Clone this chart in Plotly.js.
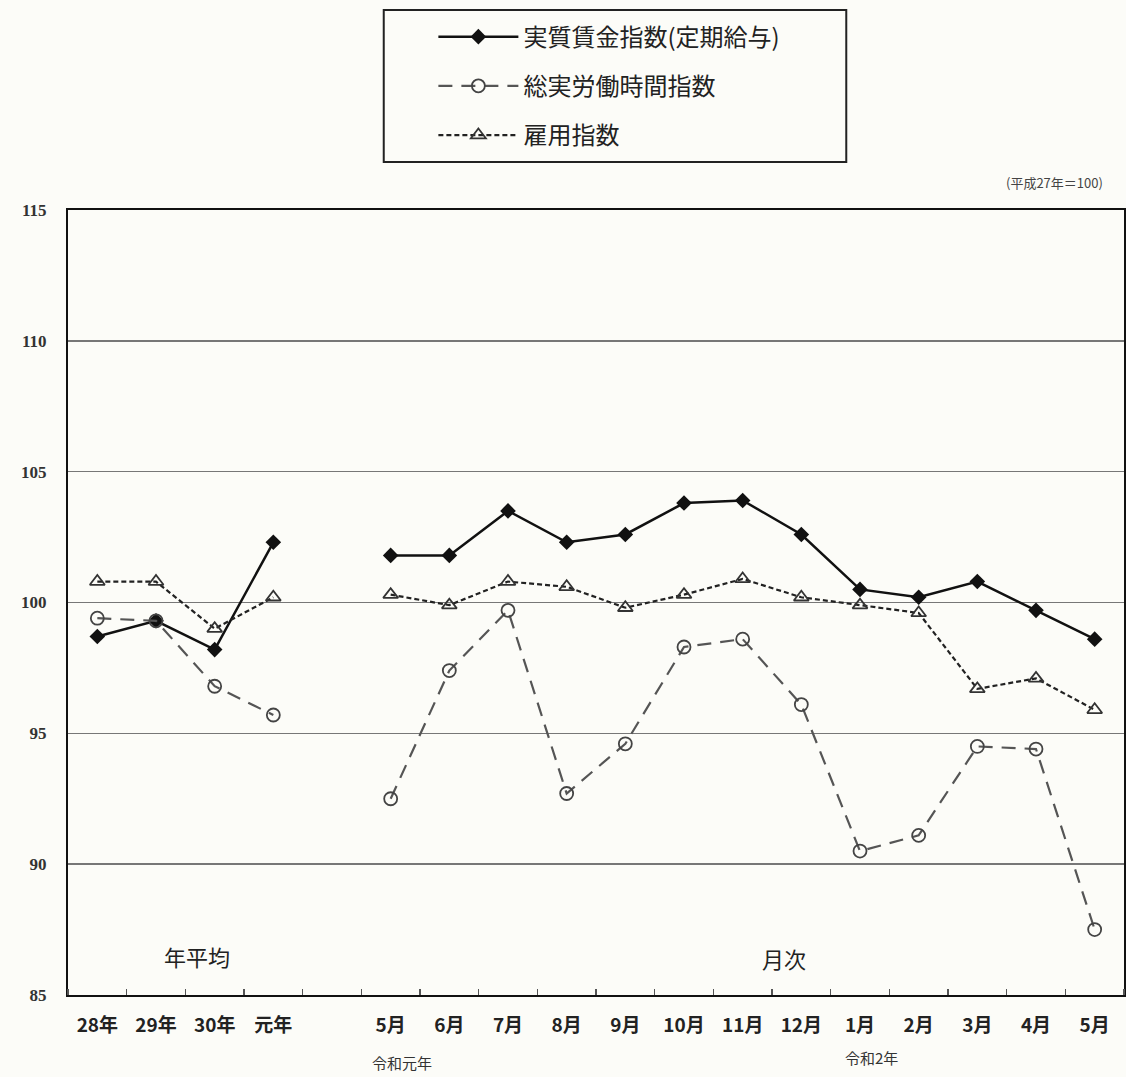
<!DOCTYPE html>
<html><head><meta charset="utf-8">
<script src="https://cdn.plot.ly/plotly-3.0.1.min.js"></script>
<style>body{margin:0;background:#fcfcf8}</style>
</head><body>
<div id="chart" style="width:1126px;height:1077px"></div>
<script>
const tickLabels = ['28年','29年','30年','元年','','5月','6月','7月','8月','9月','10月','11月','12月','1月','2月','3月','4月','5月'];
const realWage = [98.7, 99.3, 98.2, 102.3, null, 101.8, 101.8, 103.5, 102.3, 102.6, 103.8, 103.9, 102.6, 100.5, 100.2, 100.8, 99.7, 98.6];
const hours    = [99.4, 99.3, 96.8, 95.7, null, 92.5, 97.4, 99.7, 92.7, 94.6, 98.3, 98.6, 96.1, 90.5, 91.1, 94.5, 94.4, 87.5];
const employ   = [100.8, 100.8, 99.0, 100.2, null, 100.3, 99.9, 100.8, 100.6, 99.8, 100.3, 100.9, 100.2, 99.9, 99.6, 96.7, 97.1, 95.9];
const seriesNames = ['実質賃金指数(定期給与)', '総実労働時間指数', '雇用指数'];
const xIdx = tickLabels.map((_, i) => i);

const traces = [
  {x: xIdx, y: realWage, name: seriesNames[0], legendgroup: 'a', mode: 'lines+markers',
   line: {color: '#111', width: 2.5}, marker: {symbol: 'diamond', size: 12, color: '#111'}},
  {x: xIdx, y: hours, name: seriesNames[1], legendgroup: 'b', mode: 'lines+markers',
   line: {color: '#555', width: 2.2, dash: '14px,9px'},
   marker: {symbol: 'circle-open', size: 13, color: '#444', line: {width: 1.8}}},
  {x: xIdx, y: employ, name: seriesNames[2], legendgroup: 'c', mode: 'lines+markers',
   line: {color: '#222', width: 2.2, dash: '5px,3px'},
   marker: {symbol: 'triangle-up-open', size: 13, color: '#333', line: {width: 1.8}}}
];

const layout = {
  width: 1126, height: 1077,
  paper_bgcolor: '#fcfcf8', plot_bgcolor: '#fcfcf8',
  margin: {l: 68, r: 2, t: 210, b: 82},
  font: {family: '"Noto Sans CJK JP", "Noto Sans", sans-serif', color: '#222'},
  showlegend: true,
  legend: {
    x: 0.346, xanchor: 'left', y: 1.249, yanchor: 'top',
    bgcolor: 'rgba(0,0,0,0)', borderwidth: 0,
    font: {size: 24, color: '#222'},
    itemwidth: 80, tracegroupgap: 15, traceorder: 'grouped',
    itemclick: false
  },
  shapes: [
    {type: 'rect', xref: 'paper', yref: 'paper', x0: 0.299, x1: 0.737, y0: 1.0611, y1: 1.2548,
     line: {color: '#222', width: 2}, fillcolor: '#fcfcf8', layer: 'below'}
  ],
  xaxis: {
    range: [-0.5, 17.5], tickmode: 'array', tickvals: xIdx, ticktext: tickLabels,
    ticks: '', showgrid: false, zeroline: false,
    showline: true, linecolor: '#111', linewidth: 2, mirror: true,
    tickfont: {size: 19, color: '#222', family: '"Noto Sans CJK JP", sans-serif', weight: 'bold'},
    ticklabelstandoff: 12,
    minor: {tickmode: 'linear', tick0: 0.5, dtick: 1, ticks: 'inside', ticklen: 6, tickcolor: '#555', tickwidth: 1.5, showgrid: false}
  },
  yaxis: {
    range: [85, 115], tickmode: 'linear', tick0: 85, dtick: 5,
    ticks: '', showgrid: true, gridcolor: '#777', gridwidth: 1.5, zeroline: false,
    showline: true, linecolor: '#111', linewidth: 2, mirror: true,
    tickfont: {size: 17, color: '#333', family: '"Liberation Serif", serif', weight: 'bold'},
    ticklabelstandoff: 16
  },
  annotations: [
    {text: '(平成27年＝100)', xref: 'paper', yref: 'paper', x: 0.982, y: 1.02, xanchor: 'right', yanchor: 'bottom', showarrow: false, font: {size: 13, color: '#444'}},
    {text: '年平均', xref: 'x', yref: 'y', x: 1.7, y: 86.5, xanchor: 'center', yanchor: 'middle', showarrow: false, font: {size: 22, color: '#222'}},
    {text: '月次', xref: 'x', yref: 'y', x: 11.7, y: 86.4, xanchor: 'center', yanchor: 'middle', showarrow: false, font: {size: 22, color: '#222'}},
    {text: '令和元年', xref: 'x', yref: 'paper', x: 5.2, y: -0.0866, xanchor: 'center', yanchor: 'middle', showarrow: false, font: {size: 15, color: '#333'}},
    {text: '令和2年', xref: 'x', yref: 'paper', x: 13.2, y: -0.080, xanchor: 'center', yanchor: 'middle', showarrow: false, font: {size: 15, color: '#333'}}
  ]
};

Plotly.newPlot('chart', traces, layout, {displayModeBar: false, staticPlot: true});
</script>
</body></html>
